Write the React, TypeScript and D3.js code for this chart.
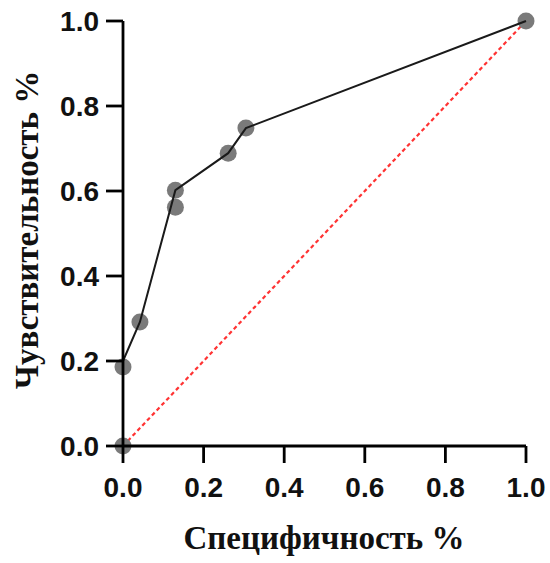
import React from "react";
import * as d3 from "d3";

const pointX = [0, 0, 0.042, 0.13, 0.13, 0.261, 0.305, 1];
const pointY = [0, 0.186, 0.292, 0.562, 0.602, 0.689, 0.748, 1];
const lineX = [0, 0, 0.042, 0.13, 0.261, 0.305, 1];
const lineY = [0, 0.2, 0.292, 0.602, 0.689, 0.748, 1];
const refX = [0, 1];
const refY = [0, 1];
const ticks = [0, 0.2, 0.4, 0.6, 0.8, 1.0];
const xTitle = "Специфичность %";
const yTitle = "Чувствительность %";

export default function App() {
  const W = 550, H = 563;
  const x = d3.scaleLinear().domain([0, 1]).range([123, 526]);
  const y = d3.scaleLinear().domain([0, 1]).range([446, 21]);
  const line = d3.line<number>().x((_, i) => x(lineX[i])).y((d) => y(d));
  const ref = d3.line<number>().x((_, i) => x(refX[i])).y((d) => y(d));
  const tickLen = 17;
  const tickFont = "'Liberation Sans', Arial, sans-serif";
  const titleFont = "'Liberation Serif', 'Times New Roman', serif";
  return (
    <svg width={W} height={H} style={{ position: "absolute", left: 0, top: 0, background: "#fff" }}>
      <path d={ref(refY) || ""} fill="none" stroke="#ff3333" strokeWidth={2.2} strokeDasharray="4,3" />
      {pointX.map((px, i) => (
        <circle key={i} cx={x(px)} cy={y(pointY[i])} r={8.5} fill="#7a7a7a" />
      ))}
      <path d={line(lineY) || ""} fill="none" stroke="#1a1a1a" strokeWidth={2} />
      <g stroke="#000" strokeWidth={2.8} fill="none">
        <line x1={x(0)} x2={x(1)} y1={y(0)} y2={y(0)} />
        <line x1={x(0)} x2={x(0)} y1={y(0)} y2={y(1)} />
        {ticks.map((t) => (
          <line key={"xt" + t} x1={x(t)} x2={x(t)} y1={y(0)} y2={y(0) + tickLen} />
        ))}
        {ticks.map((t) => (
          <line key={"yt" + t} x1={x(0)} x2={x(0) - tickLen} y1={y(t)} y2={y(t)} />
        ))}
      </g>
      <g fontFamily={tickFont} fontWeight="bold" fontSize={28} fill="#111">
        {ticks.map((t) => (
          <text key={"xl" + t} x={x(t)} y={y(0) + 51} textAnchor="middle">
            {d3.format(".1f")(t)}
          </text>
        ))}
        {ticks.map((t) => (
          <text key={"yl" + t} x={x(0) - 24} y={y(t)} dy="0.36em" textAnchor="end">
            {d3.format(".1f")(t)}
          </text>
        ))}
      </g>
      <text x={324} y={549} textAnchor="middle" fontFamily={titleFont} fontWeight="bold" fontSize={33} fill="#111">
        {xTitle}
      </text>
      <text
        transform={`translate(38,230) rotate(-90)`}
        textAnchor="middle"
        fontFamily={titleFont}
        fontWeight="bold"
        fontSize={33}
        fill="#111"
      >
        {yTitle}
      </text>
    </svg>
  );
}
